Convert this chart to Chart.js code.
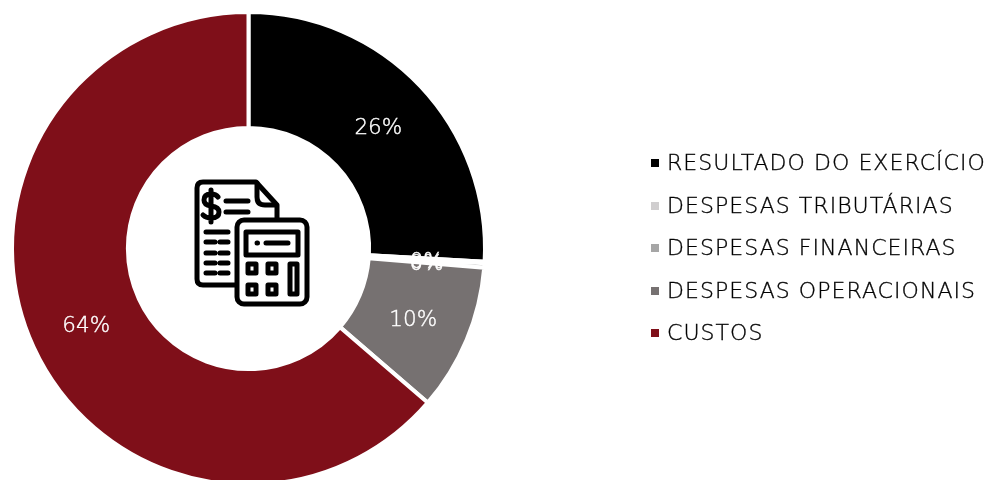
<!DOCTYPE html>
<html>
<head>
<meta charset="utf-8">
<script src="https://cdn.jsdelivr.net/npm/chart.js@4"></script>
<style>
html, body { margin: 0; padding: 0; background: #fff; overflow: hidden; }
#wrap { position: relative; width: 989px; height: 480px; overflow: hidden; }
#chart { position: absolute; left: 0; top: 0; }
#icon { position: absolute; left: 0; top: 0; }
#legend { position: absolute; left: 651px; top: 142px; margin: 0; padding: 0; list-style: none;
  font: 200 22px "DejaVu Sans", sans-serif; color: #000; white-space: nowrap;
  letter-spacing: 1.05px; -webkit-text-stroke: 0.35px #000; }
#legend li { height: 42.5px; line-height: 42.5px; }
#legend i { display: inline-block; width: 8px; height: 8px; margin-right: 8px; vertical-align: 3px; }
</style>
</head>
<body>
<div id="wrap">
  <canvas id="chart"></canvas>
  <svg id="icon" width="989" height="480" fill="none" stroke="#000" stroke-width="5" stroke-linecap="round" stroke-linejoin="round">
    <path d="M237 285 H203 q-6 0 -6 -6 V188 q0 -6 6 -6 H256 L277 205 V219"/>
    <path d="M257 183 V197 q0 8 8 8 H276"/>
    <path d="M218 197 q-2 -3 -7 -3 q-7 0 -7 6 q0 5 7 6 q8 1 8 6 q0 6 -8 6 q-5 0 -8 -3 M211 190 V222"/>
    <path d="M226 201 H248 M226 212 H248 M206 232 H228"/>
    <path d="M206 242 H215 M220 242 H228 M206 253 H215 M220 253 H228 M206 263 H215 M220 263 H228 M206 273 H215 M220 273 H228"/>
    <rect x="237" y="220" width="70" height="84" rx="7" fill="#fff"/>
    <rect x="246" y="232" width="52" height="23"/>
    <path d="M257 243 H257.5 M266 243 H288"/>
    <rect x="248" y="264" width="8" height="9"/>
    <rect x="268" y="264" width="8" height="9"/>
    <rect x="248" y="285" width="8" height="9"/>
    <rect x="268" y="285" width="8" height="9"/>
    <rect x="290" y="264" width="7" height="30"/>
  </svg>
  <ul id="legend"></ul>
</div>
<script>
const categories = ["RESULTADO DO EXERCÍCIO", "DESPESAS TRIBUTÁRIAS", "DESPESAS FINANCEIRAS", "DESPESAS OPERACIONAIS", "CUSTOS"];
const values = [25.9, 0.1, 0.3, 10, 63.7];
const colors = ["#000000", "#d0cecf", "#a6a6a6", "#767171", "#7f0f19"];

const sliceLabels = {
    id: "sliceLabels",
    afterDatasetsDraw(chart) {
        const ctx = chart.ctx;
        const total = values.reduce((a, b) => a + b, 0);
        ctx.save();
        ctx.font = '200 21.5px "DejaVu Sans", sans-serif';
        ctx.fillStyle = "#fff";
        ctx.strokeStyle = "#fff";
        ctx.lineWidth = 0.4;
        ctx.textAlign = "center";
        ctx.textBaseline = "middle";
        chart.getDatasetMeta(0).data.forEach((arc, i) => {
            const pos = arc.tooltipPosition();
            const text = Math.round(values[i] / total * 100) + "%";
            ctx.fillText(text, pos.x, pos.y + 3);
            ctx.strokeText(text, pos.x, pos.y + 3);
        });
        ctx.restore();
    }
};

const canvas = document.getElementById("chart");
canvas.width = 497;
canvas.height = 497;

new Chart(canvas, {
    type: "doughnut",
    data: {
        labels: categories,
        datasets: [{
            data: values,
            backgroundColor: colors,
            borderColor: "#fff",
            borderWidth: 4
        }]
    },
    options: {
        responsive: false,
        animation: false,
        cutout: "51%",
        layout: { padding: 10 },
        plugins: {
            legend: { display: false },
            tooltip: { enabled: false }
        }
    },
    plugins: [sliceLabels]
});

const legend = document.getElementById("legend");
categories.forEach((name, i) => {
    const li = document.createElement("li");
    const box = document.createElement("i");
    box.style.background = colors[i];
    li.appendChild(box);
    li.appendChild(document.createTextNode(name));
    legend.appendChild(li);
});
</script>
</body>
</html>
